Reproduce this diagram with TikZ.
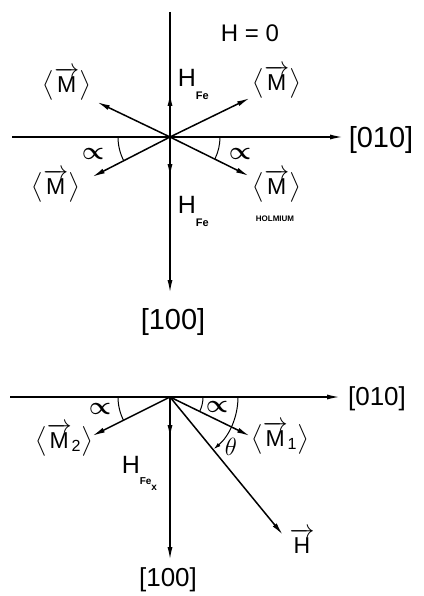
\documentclass[tikz,border=0pt]{standalone}
\usepackage{amsmath}
\usepackage{fontspec}
\setmainfont{Liberation Sans}
\usetikzlibrary{arrows.meta}
\newcommand{\avgM}[1]{$\bigl\langle\overrightarrow{\text{M}}_{\text{#1}}\bigr\rangle$}
\newcommand{\fs}[1]{\fontsize{#1}{#1}\selectfont}

\begin{document}
\begin{tikzpicture}[>={Latex[length=13pt,width=5pt]},x=1pt,y=-1pt,line width=1.5pt,
    mlabel/.style={font=\fs{23}},
    axlabel/.style={font=\fs{29}},
    angl/.style={font=\fs{24}}]
  \useasboundingbox (0,0) rectangle (423,596);
  % H = 0
  \coordinate (O) at (170,137);
  \coordinate (Xl) at (12,137);
  \coordinate (Xr) at (343,137);
  \coordinate (Yt) at (170,12);
  \coordinate (Yb) at (170,293);
  \coordinate (Hu) at (170,93);
  \coordinate (Hd) at (170,177);
  \coordinate (Mur) at (250,98);
  \coordinate (Mul) at (97,102);
  \coordinate (Mll) at (92,177);
  \coordinate (Mlr) at (249,176);
  \draw[->] (Xl) -- (Xr);
  \draw (Yt) -- (O);
  \draw[->] (O) -- (Yb);
  \draw[->] (O) -- (Hu);
  \draw[->] (O) -- (Hd);
  \foreach \tip in {Mur,Mul,Mll,Mlr}{
    \draw[->] (O) -- (\tip);
  }
  \draw[line width=1pt] (O) ++(180:52) arc[start angle=180,end angle=153,radius=52];
  \draw[line width=1pt] (O) ++(0:50) arc[start angle=0,end angle=26,radius=50];
  \node[font=\fs{24}] (hzero) at (250,33) {H = 0};
  \node[font=\fs{25},anchor=base west,inner sep=0pt] (hfeu) at (177,87) {H\raisebox{-13pt}{\fs{11}\bfseries Fe}};
  \node[font=\fs{25},anchor=base west,inner sep=0pt] (hfed) at (177,213) {H\raisebox{-13pt}{\fs{11}\bfseries Fe}};
  \node[mlabel] (mul) at (67,84) {\avgM{}};
  \node[mlabel] (mur) at (277,82) {\avgM{}};
  \node[mlabel] (mll) at (56,186) {\avgM{}};
  \node[mlabel] (mlr) at (277,186) {\avgM{}};
  \node[font=\fs{8}\bfseries] (holm) at (275,219) {HOLMIUM};
  \node[angl] (al) at (93,154) {$\boldsymbol{\propto}$};
  \node[angl] (ar) at (240,154) {$\boldsymbol{\propto}$};
  \node[axlabel] (y010) at (381,140) {[010]};
  \node[axlabel] (x100) at (173,322) {[100]};
  % H applied
  \coordinate (P) at (170,397);
  \coordinate (Pl) at (10,397);
  \coordinate (Pr) at (340,397);
  \coordinate (Pb) at (170,560);
  \coordinate (Hx) at (170,438);
  \coordinate (Mone) at (250,436);
  \coordinate (Mtwo) at (92,436);
  \coordinate (Hv) at (283,535);
  \draw[->] (Pl) -- (Pr);
  \draw[->] (P) -- (Pb);
  \draw[->] (P) -- (Hx);
  \draw[->] (P) -- (Mone);
  \draw[->] (P) -- (Mtwo);
  \draw[->] (P) -- (Hv);
  \draw[line width=1pt] (P) ++(180:52) arc[start angle=180,end angle=153,radius=52];
  \draw[line width=1pt] (P) ++(0:33) arc[start angle=0,end angle=26,radius=33];
  \draw[line width=1pt,-{Latex[length=7pt,width=4pt]}] (P) ++(0:68) arc[start angle=0,end angle=50,radius=68];
  \node[angl] (bl) at (100,409) {$\boldsymbol{\propto}$};
  \node[angl] (br) at (217,407) {$\boldsymbol{\propto}$};
  \node[angl] (th) at (231,447) {$\theta$};
  \node[mlabel] (mone) at (280,438) {\avgM{1}};
  \node[mlabel] (mtwo) at (64,440) {\avgM{2}};
  \node[mlabel] (hvec) at (302,541) {$\overrightarrow{\text{H}}$};
  \node[font=\fs{25},anchor=base west,inner sep=0pt] (hfex) at (121,473) {H\raisebox{-11pt}{\fs{10}\bfseries Fe\raisebox{-6pt}{x}}};
  \node[font=\fs{26}] (y010b) at (377,399) {[010]};
  \node[font=\fs{26}] (x100b) at (168,580) {[100]};
\end{tikzpicture}
\end{document}
